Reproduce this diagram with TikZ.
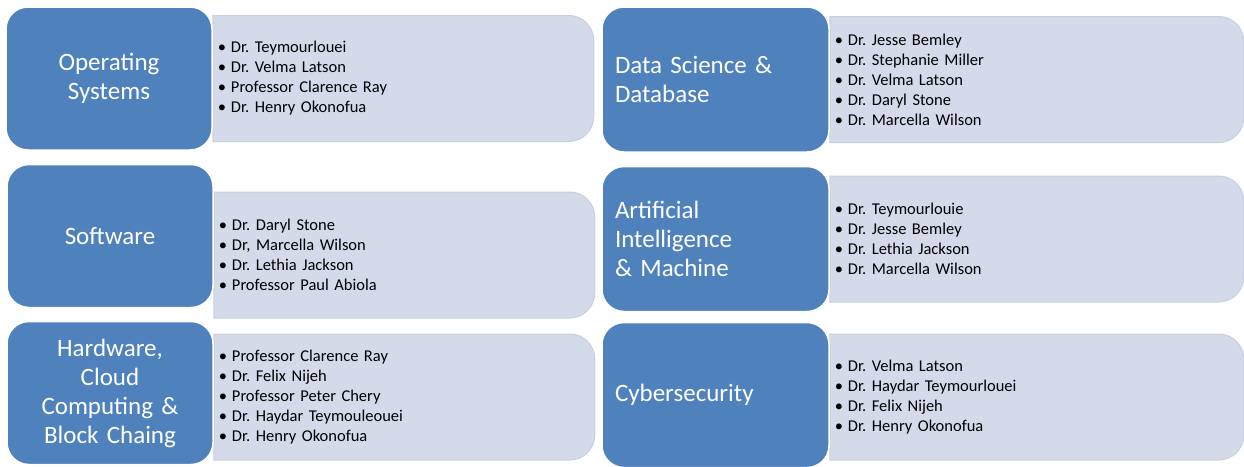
\documentclass[tikz,border=0pt]{standalone}
\usepackage{fontspec}
\setmainfont{Carlito}
\frenchspacing
\usetikzlibrary{positioning, backgrounds}
\definecolor{topicblue}{RGB}{79,129,189}
\definecolor{listfill}{RGB}{212,218,234}
\definecolor{listline}{RGB}{200,207,227}
\tikzset{
x=1pt, y=-1pt, % one unit is one pixel of the layout, y runs downwards
topic/.style={fill=topicblue, draw=white, line width=1.5pt, rounded corners=22pt, text=white, inner sep=0pt, font=\fontsize{25}{29}\selectfont}, % the blue boxes
topicleft/.style={topic, minimum width=206pt, minimum height=143pt, text width=190pt, align=center},
topicright/.style={topic, minimum width=227pt, minimum height=145pt, text width=201pt, align=left},
names/.style={minimum height=126pt, inner xsep=5pt, inner ysep=0pt, outer sep=0pt, align=left, font=\fontsize{16.5}{20}\selectfont}, % text of the light boxes
namesleft/.style={names, text width=371pt},
namesright/.style={names, text width=404pt},
listbox/.style={fill=listfill, draw=listline, line width=1pt}, % the light box itself
}
\newcommand{\who}[1]{\textbullet\hspace{5pt}#1}

\begin{document}
\begin{tikzpicture}
    \useasboundingbox (0,0) rectangle (1244,466);
    \node[topicleft] (os) at (109,78.5) {Operating\\Systems};
    \node[topicleft] (sw) at (110,236) {Software};
    \node[topicleft] (hw) at (110,393) {Hardware,\\Cloud\\Computing \&\\Block Chaing};
    \node[topicright] (ds) at (715.5,79.5) {Data Science \&\\Database};
    \node[topicright] (ai) at (715.5,239) {Artificial\\Intelligence\\\& Machine};
    \node[topicright] (cy) at (715.5,395) {Cybersecurity};

    \node[namesleft, right=0pt of os] (oslist) {\who{Dr. Teymourlouei}\\\who{Dr. Velma Latson}\\\who{Professor Clarence Ray}\\\who{Dr. Henry Okonofua}};
    \node[namesleft, right=0pt of sw, yshift=-19pt] (swlist) {\who{Dr. Daryl Stone}\\\who{Dr, Marcella Wilson}\\\who{Dr. Lethia Jackson}\\\who{Professor Paul Abiola}};
    \node[namesleft, right=0pt of hw, yshift=-4pt] (hwlist) {\who{Professor Clarence Ray}\\\who{Dr. Felix Nijeh}\\\who{Professor Peter Chery}\\\who{Dr. Haydar Teymouleouei}\\\who{Dr. Henry Okonofua}};
    \node[namesright, right=0pt of ds] (dslist) {\who{Dr. Jesse Bemley}\\\who{Dr. Stephanie Miller}\\\who{Dr. Velma Latson}\\\who{Dr. Daryl Stone}\\\who{Dr. Marcella Wilson}};
    \node[namesright, right=0pt of ai] (ailist) {\who{Dr. Teymourlouie}\\\who{Dr. Jesse Bemley}\\\who{Dr. Lethia Jackson}\\\who{Dr. Marcella Wilson}};
    \node[namesright, right=0pt of cy, yshift=-2pt] (cylist) {\who{Dr. Velma Latson}\\\who{Dr. Haydar Teymourlouei}\\\who{Dr. Felix Nijeh}\\\who{Dr. Henry Okonofua}};

    % light boxes: square on the left, round on the right
    \begin{scope}[on background layer]
        \foreach \l in {oslist, swlist, hwlist, dslist, ailist, cylist}
            \draw[listbox] (\l.north west) -- ([xshift=-25pt]\l.north east)
                arc[start angle=90, end angle=0, radius=25pt] -- ([yshift=25pt]\l.south east)
                arc[start angle=0, end angle=-90, radius=25pt] -- (\l.south west) -- cycle;
    \end{scope}
\end{tikzpicture}
\end{document}
